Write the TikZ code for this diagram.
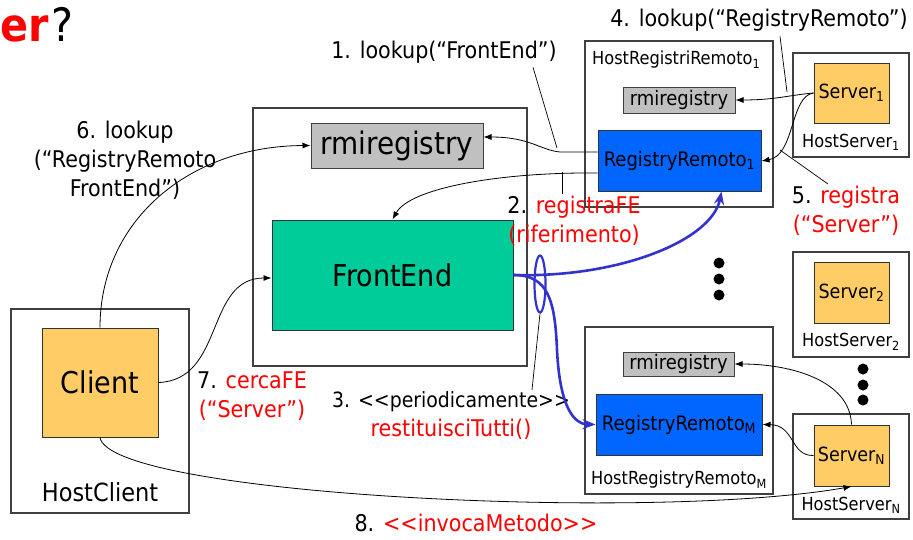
\documentclass[tikz,border=0pt]{standalone}
\usepackage{fontspec}
\setmainfont{DejaVu Sans Condensed}
\usepackage{xcolor}
\usetikzlibrary{arrows.meta,positioning,calc,shapes.geometric}
\definecolor{fegreen}{HTML}{00CC99}
\definecolor{clyellow}{HTML}{FFCC66}
\definecolor{rrblue}{HTML}{0066FF}
\definecolor{rmigray}{HTML}{C0C0C0}
\definecolor{wireblue}{HTML}{3333CC}
\definecolor{hostline}{HTML}{404040}

\begin{document}
\begin{tikzpicture}[x=1pt,y=-1pt,
  host/.style={rectangle, draw=hostline, line width=1.2pt, fill=white, inner sep=0pt},
  rmi/.style={rectangle, draw=hostline, line width=1pt, fill=rmigray, inner sep=0pt},
  rr/.style={rectangle, draw=black!80, line width=1pt, fill=rrblue, inner sep=0pt,
             font=\fontsize{20}{23}\selectfont},
  srv/.style={rectangle, draw=black!80, line width=1pt, fill=clyellow, inner sep=0pt,
              minimum width=75pt, minimum height=61pt, font=\fontsize{19.5}{22}\selectfont},
  hlab/.style={inner sep=0pt, font=\fontsize{18}{21}\selectfont},
  lab/.style={inner sep=0pt, align=center, font=\fontsize{23}{29}\selectfont},
  msg/.style={-{Latex[length=8pt,width=6pt]}, line width=0.8pt},
  lead/.style={line width=0.7pt},
  wire/.style={-{Stealth[length=13pt,width=10pt]}, line width=2.6pt, draw=wireblue}
]
  \useasboundingbox (0,0) rectangle (913,539);

  \node[anchor=west, inner sep=0pt, font=\fontsize{46}{50}\selectfont] (title) at (0,25)
    {\textcolor{red}{\bfseries er}\hspace{3pt}?};

  % hosts
  \node[host, minimum width=274pt, minimum height=258pt] (hostfe) at (390,237) {};
  \node[host, minimum width=178pt, minimum height=204pt] (hostcl) at (100,411) {};
  \node[host, minimum width=188pt, minimum height=166pt] (hostrr1) at (679,124) {};
  \node[host, minimum width=188pt, minimum height=167pt] (hostrrm) at (679,410.5) {};
  \node[host, minimum width=116pt, minimum height=104pt] (hostsv1) at (851,105) {};
  \node[host, minimum width=116pt, minimum height=105pt] (hostsv2) at (851,304.5) {};
  \node[host, minimum width=116pt, minimum height=105pt] (hostsvn) at (851,466.5) {};

  % front end host
  \node[rmi, minimum width=172pt, minimum height=45pt, font=\fontsize{31}{35}\selectfont]
    (rmife) at (397,145.5) {rmiregistry};
  \node[rectangle, draw=black!80, line width=1pt, fill=fegreen, minimum width=241pt,
        minimum height=110pt, font=\fontsize{30}{34}\selectfont] (frontend) at (392.5,275) {FrontEnd};

  % client host
  \node[srv, minimum width=116pt, minimum height=109pt, font=\fontsize{30}{34}\selectfont]
    (client) at (100,382.5) {Client};
  \node[hlab, font=\fontsize{25}{28}\selectfont] (hostcllab) at (100,492) {HostClient};

  % remote registries
  \node[hlab, anchor=west] (hostrr1lab) at (592,60) {HostRegistriRemoto\textsubscript{1}};
  \node[rmi, minimum width=112pt, minimum height=26pt, font=\fontsize{20}{24}\selectfont]
    (rmi1) at (679,100) {rmiregistry};
  \node[rr, minimum width=163pt, minimum height=61pt] (rr1) at (679.5,160.5) {RegistryRemoto\textsubscript{1}};

  \node[rmi, minimum width=111pt, minimum height=24pt, font=\fontsize{20}{24}\selectfont]
    (rmim) at (678.5,364) {rmiregistry};
  \node[rr, minimum width=166pt, minimum height=61pt] (rrm) at (679,424.5) {RegistryRemoto\textsubscript{M}};
  \node[hlab] (hostrrmlab) at (679,480) {HostRegistryRemoto\textsubscript{M}};

  % servers
  \node[srv, minimum height=60pt] (sv1) at (851.5,93) {Server\textsubscript{1}};
  \node[hlab] (hostsv1lab) at (851,142) {HostServer\textsubscript{1}};
  \node[srv] (sv2) at (851.5,292.5) {Server\textsubscript{2}};
  \node[hlab] (hostsv2lab) at (851,342) {HostServer\textsubscript{2}};
  \node[srv] (svn) at (851.5,455.5) {Server\textsubscript{N}};
  \node[hlab] (hostsvnlab) at (851,505) {HostServer\textsubscript{N}};

  \foreach \y in {263,279,295} \fill (719,\y) circle (5.5);
  \foreach \y in {369,385,400} \fill (863,\y) circle (5.5);

  % labels
  \node[lab] (lab1) at (444,52) {1. lookup(“FrontEnd”)};
  \node[lab] (lab2) at (574,221) {2. \textcolor{red}{registraFE}\\\textcolor{red}{(riferimento)}};
  \node[lab] (lab3) at (451,416) {{\fontsize{21}{29}\selectfont 3. {<}{<}periodicamente{>}{>}}\\\textcolor{red}{restituisciTutti()}};
  \node[lab] (lab4) at (759,20) {4. lookup(“RegistryRemoto”)};
  \node[lab] (lab5) at (846,211) {5. \textcolor{red}{registra}\\\textcolor{red}{(“Server”)}};
  \node[lab] (lab6) at (125,160) {6. lookup\\(“RegistryRemoto\\FrontEnd”)};
  \node[lab] (lab7) at (252,396) {7. \textcolor{red}{cercaFE}\\\textcolor{red}{(“Server”)}};
  \node[lab] (lab8) at (476,523) {8. \textcolor{red}{{<}{<}invocaMetodo{>}{>}}};

  \coordinate (k1) at (557,148);
  \coordinate (k2) at (562,172);
  \coordinate (k4) at (787,92);
  \coordinate (k5) at (780,150);

  % messages
  \draw[msg] (sv1.west) .. controls (790,95) and (775,100) .. (rmi1.east);
  \draw[msg] (sv1.west) .. controls (790,96) and (795,155) .. ($(rr1.east)+(0,0.5)$);
  \draw[msg] ($(rr1.west)+(0,-8.5)$) -- (560,152) .. controls (540,150) and (530,137) .. ($(rmife.east)+(0,-8.5)$);
  \draw[msg] ($(rr1.west)+(0,12.5)$) .. controls (500,172) and (410,188) .. (frontend.north);
  \draw[msg] (client.north) .. controls (100,220) and (190,146) .. (rmife.west);
  \draw[msg] (client.east) .. controls (225,380) and (205,278) .. ($(frontend.west)+(0,3)$);
  \draw[msg] (client.south) .. controls (110,495) and (650,522) .. (svn.south);
  \draw[msg] (svn.north) .. controls (850,380) and (790,364) .. (rmim.east);
  \draw[msg] (svn.west) .. controls (790,456) and (795,425) .. (rrm.east);

  \draw[wire] (frontend.east) .. controls (620,278) and (712,240) .. ($(rr1.south)+(42,0)$);
  \draw[wire] (frontend.east) .. controls (548,275) and (555,300) .. (557,350)
    .. controls (560,410) and (575,424) .. (rrm.west);
  \node[ellipse, draw=wireblue, line width=2.2pt, minimum width=11pt, minimum height=57pt,
        inner sep=0pt] (loop) at (540,284) {};

  % leaders
  \draw[lead] ($(lab1.south)+(89,4)$) -- (k1);
  \draw[lead] (lab2.north -| k2) ++(0,-2) -- (k2);
  \draw[lead] ($(lab3.north)+(81,-2)$) -- (loop.south);
  \draw[lead] ($(lab4.south)+(21,5)$) -- (k4);
  \draw[lead] ($(lab5.north)+(-18,-2)$) -- (k5);
\end{tikzpicture}
\end{document}
